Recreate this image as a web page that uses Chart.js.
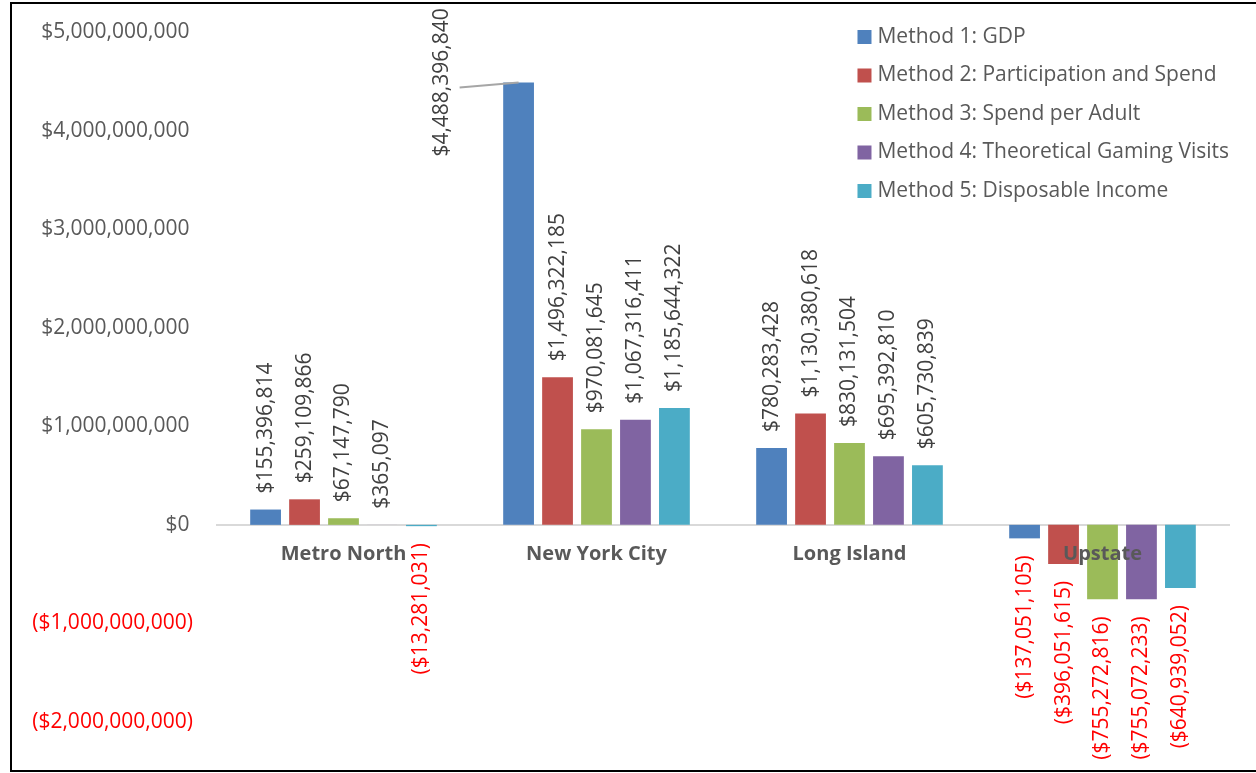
<!DOCTYPE html>
<html>
<head>
<meta charset="utf-8">
<script src="https://cdn.jsdelivr.net/npm/chart.js@4"></script>
<style>
  html, body { margin: 0; padding: 0; background: #fff; overflow: hidden; }
  #wrap { position: relative; width: 1256px; height: 773px; }
  #frame { position: absolute; left: 10px; top: 2px; width: 1260px; height: 766px; border: 2px solid #000; pointer-events: none; }
</style>
</head>
<body>
<div id="wrap">
  <canvas id="chart" width="1256" height="773"></canvas>
  <div id="frame"></div>
</div>
<script>
// regions and methods
const regions = ["Metro North", "New York City", "Long Island", "Upstate"];
const methodNames = [
  "Method 1: GDP",
  "Method 2: Participation and Spend",
  "Method 3: Spend per Adult",
  "Method 4: Theoretical Gaming Visits",
  "Method 5: Disposable Income"
];
const methodColors = ["#4F81BD", "#C0504D", "#9BBB59", "#8064A2", "#4BACC6"];

// values per method, one per region
const gdp = [155396814, 4488396840, 780283428, -137051105];
const participation = [259109866, 1496322185, 1130380618, -396051615];
const spendPerAdult = [67147790, 970081645, 830131504, -755272816];
const gamingVisits = [365097, 1067316411, 695392810, -755072233];
const disposable = [-13281031, 1185644322, 605730839, -640939052];

// y axis
const yMin = -2000000000;
const yMax = 5000000000;
const yStep = 1000000000;

const FONT = "'Open Sans', 'Noto Sans', sans-serif";

function money(v) {
  const s = "$" + Math.abs(Math.round(v)).toLocaleString("en-US");
  return v < 0 ? "(" + s + ")" : s;
}

const series = [gdp, participation, spendPerAdult, gamingVisits, disposable];

// value labels on the bars, rotated
const barLabels = {
  id: "barLabels",
  afterDatasetsDraw(chart) {
    const ctx = chart.ctx;
    const top = chart.chartArea.top;
    ctx.save();
    ctx.font = "21px " + FONT;
    chart.data.datasets.forEach((ds, i) => {
      const meta = chart.getDatasetMeta(i);
      meta.data.forEach((bar, j) => {
        const v = ds.data[j];
        const txt = money(v);
        const w = ctx.measureText(txt).width;
        ctx.save();
        ctx.textBaseline = "middle";
        if (v >= 0) {
          ctx.fillStyle = "#404040";
          if (bar.y - 17 - w < top - 25) {
            // does not fit above: put it left of the bar with a leader line
            const lx = bar.x - bar.width * 2.5;
            ctx.strokeStyle = "#A6A6A6";
            ctx.lineWidth = 2;
            ctx.beginPath();
            ctx.moveTo(lx + 18, bar.y + 5);
            ctx.lineTo(bar.x, bar.y);
            ctx.stroke();
            ctx.translate(lx, bar.y);
            ctx.rotate(-Math.PI / 2);
            ctx.textAlign = "center";
            ctx.fillText(txt, 0, 0);
          } else {
            ctx.translate(bar.x, bar.y - 16);
            ctx.rotate(-Math.PI / 2);
            ctx.textAlign = "left";
            ctx.fillText(txt, 0, 0);
          }
        } else {
          ctx.fillStyle = "#FF0000";
          ctx.translate(bar.x, bar.y + 17);
          ctx.rotate(-Math.PI / 2);
          ctx.textAlign = "right";
          ctx.fillText(txt, 0, 0);
        }
        ctx.restore();
      });
    });
    ctx.restore();
  }
};

// legend in the top right corner
const cornerLegend = {
  id: "cornerLegend",
  afterDraw(chart) {
    const ctx = chart.ctx;
    ctx.save();
    ctx.font = "21px " + FONT;
    const widest = Math.max(...chart.data.datasets.map(d => ctx.measureText(d.label).width));
    const tx = chart.chartArea.right - widest;
    ctx.textBaseline = "middle";
    ctx.textAlign = "left";
    chart.data.datasets.forEach((ds, i) => {
      const y = 37 + i * 38.5;
      ctx.fillStyle = ds.backgroundColor;
      ctx.fillRect(tx - 20, y - 7, 14, 14);
      ctx.fillStyle = "#595959";
      ctx.fillText(ds.label, tx, y);
    });
    ctx.restore();
  }
};

new Chart(document.getElementById("chart"), {
  type: "bar",
  data: {
    labels: regions,
    datasets: methodNames.map((name, i) => ({
      label: name,
      data: series[i],
      backgroundColor: methodColors[i],
      borderWidth: 0,
      categoryPercentage: 0.77,
      barPercentage: 0.79
    }))
  },
  options: {
    responsive: false,
    animation: false,
    layout: { padding: { left: 0, right: 27, top: 32, bottom: 51 } },
    plugins: {
      legend: { display: false },
      tooltip: { enabled: false }
    },
    scales: {
      x: {
        position: { y: 0 },
        grid: { display: false, drawTicks: false },
        border: { display: true, color: "#D9D9D9", width: 2 },
        ticks: {
          z: 1,
          padding: 17,
          color: "#595959",
          font: { family: FONT, size: 20, weight: "bold" }
        }
      },
      y: {
        min: yMin,
        max: yMax,
        afterFit(scale) {
          scale.width = 217;
          scale.paddingTop = 0;
          scale.paddingBottom = 0;
        },
        grid: { display: false, drawTicks: false },
        border: { display: false },
        ticks: {
          stepSize: yStep,
          padding: 24,
          color: ctx => ctx.tick.value < 0 ? "#FF0000" : "#595959",
          font: { family: FONT, size: 21 },
          callback: v => v < 0 ? money(v) : money(v) + "\u2009"
        }
      }
    }
  },
  plugins: [barLabels, cornerLegend]
});
</script>
</body>
</html>
